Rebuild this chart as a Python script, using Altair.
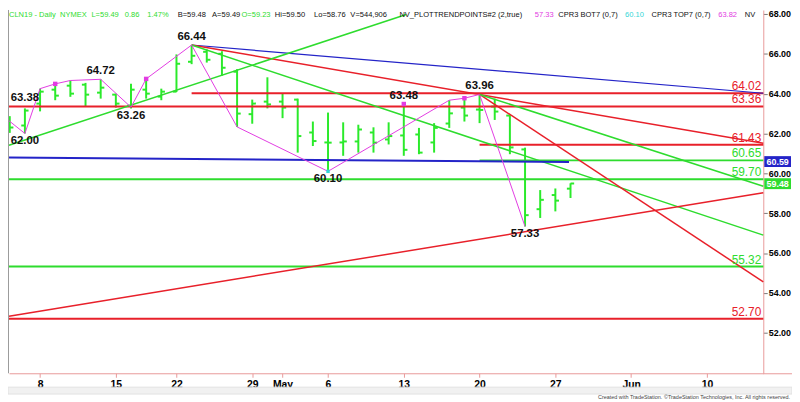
import altair as alt
import pandas as pd

# ---------------- data ----------------
# trading-day index (0 = Apr 4 2019), OHLC of CLN19 daily bars
bar_idx = list(range(38))
bar_open = [62.60, 62.40, 63.50, 64.20, 64.40, 64.45, 64.05, 63.95, 63.40, 64.20,
            63.85, 64.10, 65.60, 66.10, 66.00, 65.10, 62.97, 63.60, 63.60, 63.70,
            62.05, 61.55, 61.55, 61.60, 62.05, 61.70, 61.90, 61.95, 61.55, 62.50,
            63.30, 63.20, 63.35, 62.90, 61.20, 58.20, 58.91, 59.23]
bar_high = [62.87, 63.26, 64.25, 64.49, 64.66, 64.54, 64.72, 64.00, 64.50, 64.74,
            64.25, 65.97, 66.44, 66.22, 66.13, 65.23, 63.70, 64.82, 64.00, 63.75,
            62.60, 63.05, 62.56, 62.44, 62.31, 62.56, 63.48, 62.28, 62.52, 63.67,
            63.77, 63.96, 63.75, 62.93, 61.29, 59.16, 59.24, 59.50]
bar_low = [62.03, 62.00, 63.11, 63.67, 63.84, 63.37, 63.75, 63.30, 63.26, 63.75,
           63.67, 64.08, 65.48, 65.56, 64.90, 62.33, 62.49, 63.26, 62.77, 61.04,
           61.37, 60.10, 60.88, 61.04, 61.04, 61.45, 60.88, 60.96, 61.04, 62.28,
           62.60, 62.52, 62.68, 60.96, 57.33, 57.76, 58.09, 58.76]
bar_close = [62.30, 63.15, 64.10, 63.90, 64.00, 63.95, 64.30, 63.50, 64.20, 64.00,
             64.10, 65.50, 65.90, 65.70, 65.30, 63.00, 63.50, 63.46, 63.30, 61.87,
             61.62, 61.54, 61.60, 62.20, 61.54, 61.87, 61.18, 61.04, 62.28, 63.01,
             62.90, 63.18, 63.10, 61.30, 57.90, 58.67, 58.63, 59.49]

tick_vals = [2, 7, 11, 16, 18, 21, 26, 31, 36, 41, 46]
tick_text = ["8", "15", "22", "29", "May", "6", "13", "20", "27", "Jun", "10"]
price_ticks = [52, 54, 56, 58, 60, 62, 64, 66, 68]

# horizontal support / resistance levels
level_price = [63.36, 59.70, 55.32, 52.70, 64.02, 61.43, 60.65]
level_start = [-0.05, -0.05, -0.05, -0.05, 12, 31, 31]
level_kind = ["red", "green", "green", "red", "red", "red", "green"]
level_text = ["63.36", "59.70", "55.32", "52.70", "64.02", "61.43", "60.65"]

# sloped trend lines (start index, start price, end index, end price)
trend_x1 = [12, 12, 12, 31, 31, -0.05, -0.05, -0.05]
trend_y1 = [66.44, 66.44, 66.44, 63.96, 63.96, 61.41, 52.83, 60.80]
trend_x2 = [49.72, 49.72, 49.72, 49.72, 49.72, 26.16, 49.72, 36.9]
trend_y2 = [64.02, 61.51, 56.90, 54.55, 59.35, 67.97, 59.02, 60.57]
trend_kind = ["blue", "red", "green", "red", "green", "green", "red", "blueh"]

# swing (trend point) zig-zag
swing_x = [-0.05, 1, 2, 3, 4, 6, 8, 9, 12, 15, 21, 29, 30, 31, 34]
swing_y = [62.64, 62.00, 64.25, 64.49, 64.66, 64.72, 63.32, 64.74, 66.44, 62.33,
           60.10, 63.67, 63.77, 63.96, 57.33]
dot_x = [3, 9, 26, 30]
dot_y = [64.49, 64.74, 63.48, 63.77]

pivot_hi_x = [12, 6, 1, 26, 31]
pivot_hi_y = [66.44, 64.72, 63.38, 63.48, 63.96]
pivot_lo_x = [8, 1, 21, 34]
pivot_lo_y = [63.26, 62.00, 60.10, 57.33]

tag_price = [60.59, 59.48]
tag_kind = ["blue", "green"]

header_text = ["CLN19 - Daily", "NYMEX", "L=59.49", "0.86", "1.47%", "B=59.48",
               "A=59.49", "O=59.23", "Hi=59.50", "Lo=58.76", "V=544,906",
               "NV_PLOTTRENDPOINTS#2 (2,true)", "57.33", "CPR3 BOT7 (0,7)",
               "60.10", "CPR3 TOP7 (0,7)", "63.82", "NV"]
header_kind = ["green", "green", "green", "green", "green", "black", "black",
               "green", "black", "black", "black", "black", "magenta", "black",
               "cyan", "black", "magenta", "black"]

# ---------------- style / layout ----------------
COL = {"red": "#E8202A", "green": "#2EDC2E", "blue": "#2424C8", "blueh": "#2424C8",
       "black": "#111111", "magenta": "#E23CE2", "cyan": "#33D6D6"}
WID = {"red": 2.0, "green": 2.0}
BAR = "#2BEA2B"
PINK = "#E99A9A"
SANS = "Liberation Sans, Arial, sans-serif"
header_px = [2, 54, 86, 120, 143, 174, 209, 239, 273, 313, 350, 400, 538, 562,
             630, 657, 725, 752]

W, H = 762, 367
xs = alt.Scale(domain=[-0.05, 49.72], nice=False, zero=False)
ys = alt.Scale(domain=[49.963, 68.199], nice=False, zero=False)

label_expr = " : ".join(f"datum.value == {v} ? '{t}'" for v, t in zip(tick_vals, tick_text)) + " : ''"
x_axis = alt.Axis(values=tick_vals, labelExpr=label_expr, title=None, grid=False,
                  domainColor=PINK, tickColor=PINK, tickSize=4, labelPadding=2,
                  labelFont=SANS, labelFontSize=10.5, labelFontWeight="bold",
                  labelColor="black", labelFlush=False, labelOverlap=False)
y_axis = alt.Axis(orient="right", values=price_ticks, format=".2f", title=None,
                  grid=False, domainColor=PINK, tickColor="#777777", tickSize=4,
                  labelPadding=1, labelFont=SANS, labelFontSize=9,
                  labelFontWeight="bold", labelColor="black", labelFlush=False,
                  labelOverlap=False)


def X(f):
    return alt.X(f, scale=xs, axis=x_axis)


def Y(f):
    return alt.Y(f, scale=ys, axis=y_axis)


# ---------------- tables ----------------
bars = pd.DataFrame({"i": bar_idx, "o": bar_open, "h": bar_high, "l": bar_low, "c": bar_close})
levels = pd.DataFrame({
    "x": level_start, "x2": [49.72] * len(level_price), "y": level_price,
    "col": [COL[k] for k in level_kind], "w": [WID[k] for k in level_kind],
    "t": level_text,
})
trends = pd.DataFrame({
    "x": trend_x1, "y": trend_y1, "x2": trend_x2, "y2": trend_y2,
    "col": [COL[k] for k in trend_kind],
    "w": [1.2 if k == "blue" else (2.0 if k == "blueh" else 1.5) for k in trend_kind],
})
swing = pd.DataFrame({"x": swing_x, "y": swing_y, "k": list(range(len(swing_x)))})
dots = pd.DataFrame({"x": dot_x, "y": dot_y})
piv_hi = pd.DataFrame({"x": pivot_hi_x, "y": pivot_hi_y,
                       "t": [f"{v:.2f}" for v in pivot_hi_y]})
piv_lo = pd.DataFrame({"x": pivot_lo_x, "y": pivot_lo_y,
                       "t": [f"{v:.2f}" for v in pivot_lo_y]})
tags = pd.DataFrame({"y": tag_price, "col": [COL[k] for k in tag_kind],
                     "t": [f"{v:.2f}" for v in tag_price]})
header = pd.DataFrame({"px": [(p - 2) * 0.991 for p in header_px], "t": header_text,
                       "col": [COL[k] for k in header_kind]})
one = pd.DataFrame({"a": [0]})

# ---------------- layers ----------------
bar_hl = alt.Chart(bars).mark_rule(color=BAR, strokeWidth=2).encode(
    x=X("i:Q"), y=Y("l:Q"), y2="h:Q")
bar_o = alt.Chart(bars).transform_calculate(xo="datum.i - 0.24").mark_rule(
    color=BAR, strokeWidth=2).encode(x=X("xo:Q"), x2="i:Q", y=Y("o:Q"))
bar_c = alt.Chart(bars).transform_calculate(xc="datum.i + 0.24").mark_rule(
    color=BAR, strokeWidth=2).encode(x=X("i:Q"), x2="xc:Q", y=Y("c:Q"))

lvl = alt.Chart(levels).mark_rule().encode(
    x=X("x:Q"), x2="x2:Q", y=Y("y:Q"),
    color=alt.Color("col:N", scale=None),
    strokeWidth=alt.StrokeWidth("w:Q", scale=None))

trd = alt.Chart(trends).mark_rule().encode(
    x=X("x:Q"), x2="x2:Q", y=Y("y:Q"), y2="y2:Q",
    color=alt.Color("col:N", scale=None),
    strokeWidth=alt.StrokeWidth("w:Q", scale=None))

zig = alt.Chart(swing).mark_line(color=COL["magenta"], strokeWidth=1).encode(
    x=X("x:Q"), y=Y("y:Q"), order="k:Q")
dot = alt.Chart(dots).mark_square(color=COL["magenta"], size=20, opacity=1).encode(
    x=X("x:Q"), y=Y("y:Q"))
cyan_dot = alt.Chart(pd.DataFrame({"x": [21], "y": [60.10]})).mark_square(
    color=COL["cyan"], size=12, opacity=1).encode(x=X("x:Q"), y=Y("y:Q"))

hi_txt = alt.Chart(piv_hi).mark_text(font=SANS, fontSize=11.5, fontWeight="bold",
                                     color="#111111", dy=-8).encode(
    x=X("x:Q"), y=Y("y:Q"), text="t:N")
lo_txt = alt.Chart(piv_lo).mark_text(font=SANS, fontSize=11.5, fontWeight="bold",
                                     color="#111111", dy=8).encode(
    x=X("x:Q"), y=Y("y:Q"), text="t:N")

lvl_txt = alt.Chart(levels).mark_text(font=SANS, fontSize=12, align="right",
                                      dy=-7).encode(
    x=alt.value(760), y=Y("y:Q"),
    text="t:N", color=alt.Color("col:N", scale=None))

tag_box = alt.Chart(tags).mark_tick(orient="horizontal", size=27, thickness=11,
                                    opacity=1).encode(
    x=alt.value(776.5), y=Y("y:Q"), color=alt.Color("col:N", scale=None))
tag_txt = alt.Chart(tags).mark_text(font=SANS, fontSize=9, fontWeight="bold",
                                    color="white").encode(
    x=alt.value(776.5), y=Y("y:Q"), text="t:N")

head = alt.Chart(header).mark_text(font=SANS, fontSize=7.6, align="left",
                                   baseline="middle").encode(
    x=alt.X("px:Q", scale=None), y=alt.value(5), text="t:N",
    color=alt.Color("col:N", scale=None))

left_border = alt.Chart(one).mark_rule(color="#9A9A9A", strokeWidth=1).encode(
    x=alt.value(-0.5), y=alt.value(0), y2=alt.value(H))
axis_ext = alt.Chart(one).mark_rule(color=PINK, strokeWidth=1).encode(
    x=alt.value(W), x2=alt.value(791), y=alt.value(H + 0.5))
scroll = alt.Chart(one).mark_rect(color="#F1F1F1", stroke="#E2E2E2", strokeWidth=1).encode(
    x=alt.value(-1), x2=alt.value(791), y=alt.value(381), y2=alt.value(388))
credit = alt.Chart(one).mark_text(
    text="Created with TradeStation. \u00a9TradeStation Technologies, Inc. All rights reserved.",
    font=SANS, fontSize=5.5, align="right", color="#444444").encode(
    x=alt.value(789), y=alt.value(391))

chart = alt.layer(
    scroll, bar_hl, bar_o, bar_c, lvl, trd, zig, dot, cyan_dot, hi_txt, lo_txt, lvl_txt,
    tag_box, tag_txt, head, left_border, axis_ext, credit,
).properties(
    width=W, height=H,
    padding={"left": 1, "top": 0, "right": 29, "bottom": 27},
    autosize=alt.AutoSizeParams(type="none"),
    background="white",
).configure_view(stroke=None)

chart.save("out.html", embed_options={"renderer": "svg", "actions": False})
